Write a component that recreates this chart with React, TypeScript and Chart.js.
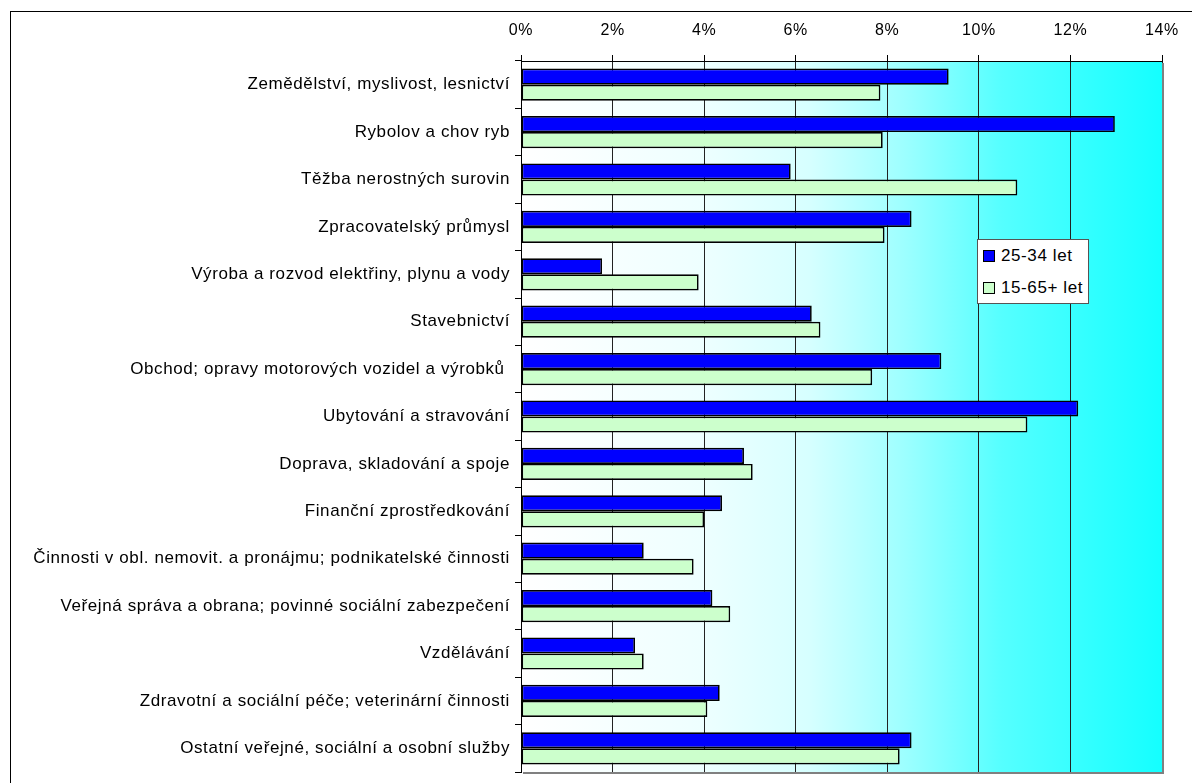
import React, { useEffect, useRef } from "react";
import { Chart, registerables } from "chart.js";

Chart.register(...registerables);

const categories: string[] = [
  "Zemědělství, myslivost, lesnictví",
  "Rybolov a chov ryb",
  "Těžba nerostných surovin",
  "Zpracovatelský průmysl",
  "Výroba a rozvod elektřiny, plynu a vody",
  "Stavebnictví",
  "Obchod; opravy motorových vozidel a výrobků ",
  "Ubytování a stravování",
  "Doprava, skladování a spoje",
  "Finanční zprostředkování",
  "Činnosti v obl. nemovit. a pronájmu; podnikatelské činnosti",
  "Veřejná správa a obrana; povinné sociální zabezpečení",
  "Vzdělávání",
  "Zdravotní a sociální péče; veterinární činnosti",
  "Ostatní veřejné, sociální a osobní služby",
];

const seriesNames: string[] = ["25-34 let", "15-65+ let"];
const values2534: number[] = [9.34, 12.97, 5.89, 8.53, 1.77, 6.35, 9.18, 12.17, 4.87, 4.39, 2.68, 4.18, 2.49, 4.34, 8.53];
const values1565: number[] = [7.85, 7.9, 10.84, 7.94, 3.88, 6.54, 7.67, 11.06, 5.06, 4.0, 3.77, 4.57, 2.68, 4.07, 8.27];
const seriesColors: string[] = ["#0000FF", "#CCFFCC"];
const xMin = 0;
const xMax = 14;
const xStep = 2;

const FONT = "'Liberation Sans', Arial, sans-serif";

const bgPlugin = {
  id: "bgPlugin",
  beforeDraw(chart: any) {
    const { ctx, chartArea } = chart;
    if (!chartArea) return;
    const { left, right, top, bottom } = chartArea;
    const g = ctx.createLinearGradient(left, 0, right, 0);
    g.addColorStop(0, "#FFFFFF");
    g.addColorStop(0.28, "#EEFFFF");
    g.addColorStop(0.45, "#D6FFFF");
    g.addColorStop(0.6, "#9CFFFF");
    g.addColorStop(0.75, "#55FFFF");
    g.addColorStop(1, "#14FFFF");
    ctx.save();
    ctx.fillStyle = g;
    ctx.fillRect(left, top, right - left, bottom - top);
    ctx.restore();
    ctx.letterSpacing = "0.6px";
  },
  afterDraw(chart: any) {
    const { ctx, chartArea } = chart;
    const { left, right, top, bottom } = chartArea;
    ctx.save();
    ctx.strokeStyle = "#808080";
    ctx.lineWidth = 2;
    ctx.beginPath();
    ctx.moveTo(right + 1, top + 2);
    ctx.lineTo(right + 1, bottom + 1);
    ctx.lineTo(left + 2, bottom + 1);
    ctx.stroke();
    ctx.restore();
  },
};

export default function App() {
  const canvasRef = useRef<HTMLCanvasElement | null>(null);

  useEffect(() => {
    if (!canvasRef.current) return;
    const common = {
      borderColor: "#000000",
      borderWidth: 1.7,
      borderSkipped: false,
      categoryPercentage: 0.68,
      barPercentage: 1,
    };
    const chart = new Chart(canvasRef.current, {
      type: "bar",
      data: {
        labels: categories,
        datasets: [
          { label: seriesNames[0], data: values2534, backgroundColor: seriesColors[0], ...common },
          { label: seriesNames[1], data: values1565, backgroundColor: seriesColors[1], ...common },
        ],
      },
      options: {
        indexAxis: "y",
        responsive: false,
        maintainAspectRatio: false,
        animation: false,
        layout: { padding: { left: 0, right: 30, top: 0, bottom: 11 } },
        plugins: { legend: { display: false }, tooltip: { enabled: false } },
        scales: {
          x: {
            position: "top",
            min: xMin,
            max: xMax,
            ticks: {
              stepSize: xStep,
              callback: (v: any) => v + "%",
              color: "#000",
              font: { family: FONT, size: 16 },
              padding: 15,
            },
            grid: { color: "#222", lineWidth: 1, tickLength: 6, tickColor: "#000" },
            border: { color: "#000", width: 1 },
            afterFit: (s: any) => {
              s.height = 61;
              s.paddingLeft = 0;
              s.paddingRight = 0;
            },
          },
          y: {
            ticks: {
              color: "#000",
              font: { family: FONT, size: 17 },
              padding: 5,
              autoSkip: false,
            },
            grid: { display: true, drawOnChartArea: false, offset: true, tickLength: 6, color: "#000" },
            border: { color: "#000", width: 1 },
            afterFit: (s: any) => {
              s.width = 521;
              s.paddingTop = 0;
              s.paddingBottom = 0;
            },
          },
        },
      },
      plugins: [bgPlugin],
    });
    return () => chart.destroy();
  }, []);

  return (
    <div style={{ position: "fixed", left: 0, top: 0, width: 1192, height: 783, overflow: "hidden", background: "#fff" }}>
      <div
        style={{
          position: "absolute",
          left: 10,
          top: 11,
          width: 1250,
          height: 850,
          border: "1px solid #000",
          boxSizing: "border-box",
        }}
      />
      <canvas ref={canvasRef} width={1192} height={783} style={{ position: "absolute", left: 0, top: 0 }} />
      <div
        style={{
          position: "absolute",
          left: 977,
          top: 239,
          width: 112,
          height: 65,
          background: "#fff",
          border: "1px solid #555",
          boxSizing: "border-box",
          fontFamily: FONT,
          fontSize: 17,
          letterSpacing: "0.6px",
          color: "#000",
        }}
      >
        {seriesNames.map((name, i) => (
          <div key={name} style={{ position: "absolute", left: 5, top: i === 0 ? 6 : 38, height: 20, display: "flex", alignItems: "center", whiteSpace: "nowrap" }}>
            <span
              style={{
                display: "inline-block",
                width: 10,
                height: 10,
                background: seriesColors[i],
                border: "1px solid #000",
                marginRight: 6,
              }}
            />
            <span>{name}</span>
          </div>
        ))}
      </div>
    </div>
  );
}
